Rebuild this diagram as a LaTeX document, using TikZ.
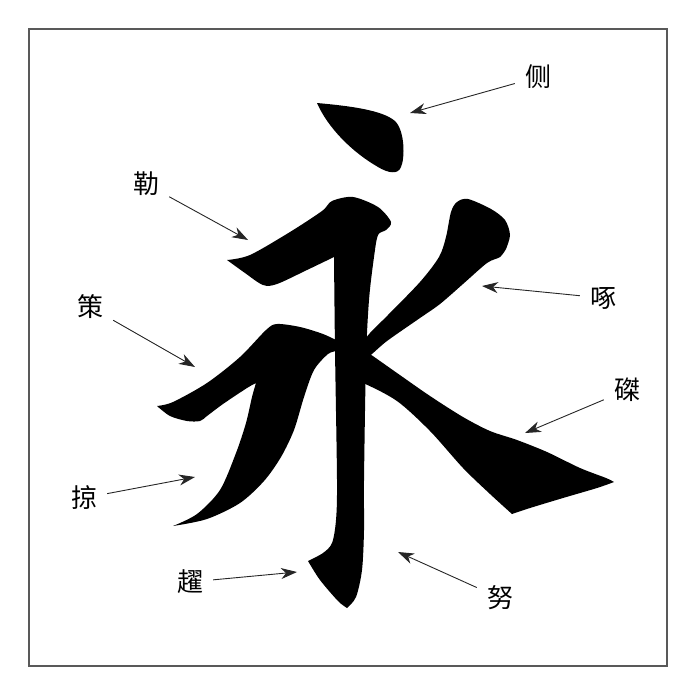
\documentclass[tikz,border=0pt]{standalone}
\usepackage{fontspec}
\newfontfamily\cjk{Noto Sans CJK SC}
\usetikzlibrary{arrows.meta}

\begin{document}
\begin{tikzpicture}[x=1pt, y=-1pt,
    strokename/.style={font=\cjk\fontsize{26}{26}\selectfont, inner sep=10pt},
    arrow/.style={line width=0.9pt, black!85, -{Stealth[length=16pt, width=11pt, inset=5pt]}},
    ink/.style={fill=black}]

        \useasboundingbox (0,0) rectangle (690,675);
        \draw[line width=1.3pt, black!65] (29,29) rectangle (667,666);

        % Ce (dot)
        \fill[ink] (317,103) .. controls (350,106) and (382,110) .. (395,121)
            .. controls (405,131) and (405,158) .. (401,167)
            .. controls (398,175) and (388,173) .. (378,167)
            .. controls (352,152) and (328,128) .. (317,103) -- cycle;

        % Le (bar) and Nu (down stroke) with Ti (hook)
        \fill[ink] plot[smooth, tension=0.5] coordinates {(227,260) (250,255) (290,232) (322,211) (332,201) (353,197) (378,207) (391,222) (386,230) (378,235) (374,257) (369,300) (366,360) (364,480) (364,530) (362,570) (356,597) (347,608)}
            -- plot[smooth, tension=0.5] coordinates {(347,608) (338,601) (320,580) (308,561)}
            -- plot[smooth, tension=0.5] coordinates {(308,561) (323,553) (332,543) (336,520) (337,480) (335,350) (334,257)}
            -- plot[smooth, tension=0.5] coordinates {(334,257) (307,270) (277,284) (263,285) (245,273) (227,260)}
            -- cycle;

        % Zhuo (peck)
        \fill[ink] plot[smooth, tension=0.5] coordinates {(355,352) (370,333) (387,316) (420,282) (439,257) (446,237) (451,212) (457,202) (468,199) (491,209) (505,220) (510,235) (506,249)}
            -- plot[smooth, tension=0.5] coordinates {(506,249) (500,257) (487,263) (463,284) (440,304) (420,318) (387,341) (368,357) (355,361)}
            -- cycle;

        % Zhe (press)
        \fill[ink] plot[smooth, tension=0.5] coordinates {(355,345) (367,352) (397,373) (430,396) (463,417) (490,431) (517,440) (547,452) (580,468) (606,478) (614,482)}
            -- plot[smooth, tension=0.5] coordinates {(614,482) (597,488) (563,498) (530,508) (512,514)}
            -- plot[smooth, tension=0.5] coordinates {(512,514) (490,494) (463,468) (430,431) (397,401) (363,383) (350,381)}
            -- cycle;

        % Ce (rise) and Lve (sweep)
        \fill[ink] plot[smooth, tension=0.5] coordinates {(157,406) (173,402) (207,383) (240,357) (266,330) (277,324) (300,327) (323,334) (340,342)}
            -- plot[smooth, tension=0.5] coordinates {(340,342) (338,350) (328,354) (314,370) (304,397) (294,430) (281,457) (264,481) (240,503) (207,519) (173,526)}
            -- plot[smooth, tension=0.5] coordinates {(173,526) (197,514) (220,490) (236,453) (246,423) (252,397) (256,383)}
            -- plot[smooth, tension=0.5] coordinates {(256,383) (247,388) (223,404) (207,416) (200,421) (187,421) (170,416) (157,406)}
            -- cycle;

        % Names
        \node[strokename] (Ce_dot) at (538,77) {侧};
        \node[strokename] (Le_bar) at (146,184) {勒};
        \node[strokename] (Zhuo_peck) at (603,298) {啄};
        \node[strokename] (Ce_rise) at (90,307) {策};
        \node[strokename] (Zhe_press) at (627,390) {磔};
        \node[strokename] (Lve_sweep) at (84,498) {掠};
        \node[strokename] (Ti_hook) at (190,582) {趯};
        \node[strokename] (Nu_down) at (500,598) {努};

        \coordinate (Ce_dot_tip) at (410,113);
        \coordinate (Le_bar_tip) at (248,240);
        \coordinate (Zhuo_peck_tip) at (482,286);
        \coordinate (Ce_rise_tip) at (195,367);
        \coordinate (Zhe_press_tip) at (525,433);
        \coordinate (Lve_sweep_tip) at (195,477);
        \coordinate (Ti_hook_tip) at (297,572);
        \coordinate (Nu_down_tip) at (398,552);

        % Arrows
        \draw [arrow] (Ce_dot) -- (Ce_dot_tip);
        \draw [arrow] (Le_bar) -- (Le_bar_tip);
        \draw [arrow] (Zhuo_peck) -- (Zhuo_peck_tip);
        \draw [arrow] (Ce_rise) -- (Ce_rise_tip);
        \draw [arrow] (Zhe_press) -- (Zhe_press_tip);
        \draw [arrow] (Lve_sweep) -- (Lve_sweep_tip);
        \draw [arrow] (Ti_hook) -- (Ti_hook_tip);
        \draw [arrow] (Nu_down) -- (Nu_down_tip);

    \end{tikzpicture}
\end{document}
